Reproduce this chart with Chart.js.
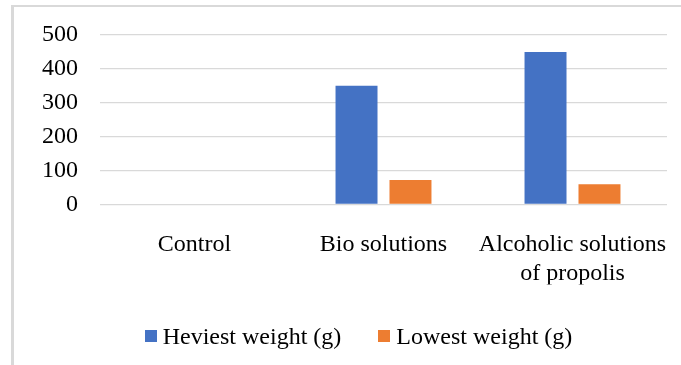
<!DOCTYPE html>
<html lang="en">
<head>
    <meta charset="UTF-8">
    <title>Heaviest and lowest weight</title>
    <script src="https://cdn.jsdelivr.net/npm/chart.js"></script>
    <style>
        html, body { margin: 0; padding: 0; background: #fff; }
        body { width: 681px; height: 365px; position: relative; overflow: hidden; }
        .frame {
            position: absolute; left: 11px; top: 5px; width: 700px; height: 400px;
            border-left: 3px solid #d9d9d9; border-top: 2px solid #d9d9d9;
        }
        #chart-wrap { position: absolute; left: 0; top: 0; width: 681px; height: 365px; }
        .legend {
            position: absolute; left: 0; top: 321px; width: 681px;
            display: flex; justify-content: center; gap: 37px;
            font-family: "Liberation Serif", "Times New Roman", serif; font-size: 24px; color: #000;
            transform: translateX(18px);
        }
        .legend-item { display: flex; align-items: center; gap: 6px; line-height: 30px; }
        .legend-box { width: 12px; height: 12px; display: inline-block; }
    </style>
</head>
<body>
    <div class="frame"></div>
    <div id="chart-wrap"><canvas id="weightChart" width="681" height="365"></canvas></div>
    <div id="legend" class="legend"></div>

    <script>
        // data
        const categories = ['Control', 'Bio solutions', ['Alcoholic solutions', 'of propolis']];
        const heaviest = [0, 350, 450];
        const lowest = [0, 72, 60];
        const yTicks = [0, 100, 200, 300, 400, 500];

        const serif = '"Liberation Serif", "Times New Roman", serif';

        // legend drawn as html so spacing can match the source
        const htmlLegend = {
            id: 'htmlLegend',
            afterUpdate(chart) {
                const box = document.getElementById('legend');
                box.innerHTML = '';
                chart.data.datasets.forEach(ds => {
                    const item = document.createElement('div');
                    item.className = 'legend-item';
                    const sw = document.createElement('span');
                    sw.className = 'legend-box';
                    sw.style.background = ds.backgroundColor;
                    const txt = document.createElement('span');
                    txt.textContent = ds.label;
                    item.appendChild(sw);
                    item.appendChild(txt);
                    box.appendChild(item);
                });
            }
        };

        const ctx = document.getElementById('weightChart').getContext('2d');
        const weightChart = new Chart(ctx, {
            type: 'bar',
            data: {
                labels: categories,
                datasets: [{
                    label: 'Heviest weight (g)',
                    data: heaviest,
                    backgroundColor: '#4472C4'
                }, {
                    label: 'Lowest weight (g)',
                    data: lowest,
                    backgroundColor: '#ED7D31'
                }]
            },
            options: {
                responsive: false,
                animation: false,
                layout: {
                    padding: { left: 0, right: 14, top: 35, bottom: 80.5 }
                },
                datasets: {
                    bar: { categoryPercentage: 0.571, barPercentage: 0.778 }
                },
                plugins: {
                    legend: { display: false },
                    tooltip: { enabled: false }
                },
                scales: {
                    x: {
                        grid: { display: false, drawTicks: false },
                        border: { display: false },
                        ticks: {
                            color: '#000',
                            font: { family: serif, size: 24, lineHeight: 1.2 },
                            padding: 26,
                            maxRotation: 0,
                            autoSkip: false
                        },
                        afterFit(scale) {
                            scale.height = 80;
                            // long last label should not squeeze the plot
                            scale.paddingLeft = 0;
                            scale.paddingRight = 0;
                        }
                    },
                    y: {
                        min: 0,
                        max: 500,
                        afterBuildTicks(scale) {
                            scale.ticks = yTicks.map(v => ({ value: v }));
                        },
                        grid: { color: '#d9d9d9', lineWidth: 1.3, drawTicks: false },
                        border: { display: false },
                        ticks: {
                            color: '#000',
                            font: { family: serif, size: 24 },
                            padding: 22
                        },
                        afterFit(scale) {
                            scale.width = 100;
                            scale.paddingTop = 0;
                            scale.paddingBottom = 0;
                        }
                    }
                }
            },
            plugins: [htmlLegend]
        });
    </script>
</body>
</html>
